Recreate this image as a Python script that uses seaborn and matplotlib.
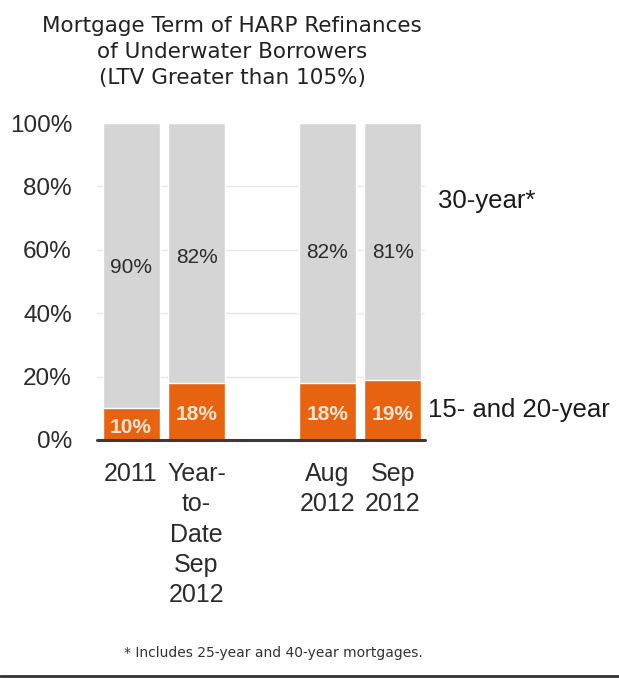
import matplotlib
matplotlib.use("Agg")
import matplotlib.pyplot as plt
import seaborn as sns
import pandas as pd
from matplotlib.lines import Line2D

categories = ["2011", "Year-\nto-\nDate\nSep\n2012", "Aug\n2012", "Sep\n2012"]
thirty_year = [90, 82, 82, 81]
fifteen_twenty = [10, 18, 18, 19]
label_heights = [54.5, 57.5, 59, 59]
order = [categories[0], categories[1], " ", categories[2], categories[3]]
yticks = [0, 20, 40, 60, 80, 100]

sns.set_theme(style="white")
plt.rcParams["font.family"] = ["Liberation Sans", "DejaVu Sans"]

df = pd.DataFrame({"cat": categories, "t30": thirty_year, "t15": fifteen_twenty})
df["total"] = df["t30"] + df["t15"]

fig = plt.figure(figsize=(6.19, 6.79), dpi=100)
ax = fig.add_axes([97 / 619, 1 - 440 / 679, 328 / 619, 317 / 679])

gray = "#D5D5D5"
orange = "#E8630F"
sns.barplot(data=df, x="cat", y="total", order=order, color=gray, width=0.87,
            saturation=1, ax=ax, zorder=2)
sns.barplot(data=df, x="cat", y="t15", order=order, color=orange, width=0.87,
            saturation=1, ax=ax, zorder=3)

ax.set_xlim(-0.52, 4.49)
ax.set_ylim(0, 100)
ax.set_yticks(yticks)
ax.set_yticklabels([f"{v}%" for v in yticks])
for v in yticks[1:-1]:
    ax.axhline(v, color="#E6E6E6", lw=1, zorder=1)
ax.axhline(0, color="#3a3a3a", lw=2.2, zorder=4, clip_on=False)

for s in ax.spines.values():
    s.set_visible(False)
ax.set_xlabel("")
ax.set_ylabel("")
ax.tick_params(axis="y", length=0, pad=18, labelsize=17.5, labelcolor="#2b2b2b")
ax.tick_params(axis="x", length=0, pad=16, labelsize=18, labelcolor="#2b2b2b")
for lab in ax.get_xticklabels():
    lab.set_linespacing(1.33)
    lab.set_verticalalignment("top")

pos = [order.index(c) for c in categories]
for p, t30, t15, h in zip(pos, thirty_year, fifteen_twenty, label_heights):
    ax.text(p, h, f"{t30}%", ha="center", va="center", fontsize=15, color="#2b2b2b", zorder=5)
    ax.text(p, 4 if t15 < 15 else 8, f"{t15}%", ha="center", va="center", fontsize=15,
            color="#FBE3D2", fontweight="bold", zorder=5)

ax.text(4.69, 75.5, "30-year*", ha="left", va="center", fontsize=18.5, color="#1a1a1a")
ax.text(4.54, 9.5, "15- and 20-year", ha="left", va="center", fontsize=18.5, color="#1a1a1a")

fig.text(232 / 619, 1 - 52 / 679,
         "Mortgage Term of HARP Refinances\nof Underwater Borrowers\n(LTV Greater than 105%)",
         ha="center", va="center", fontsize=15.5, color="#222222", linespacing=1.38,
         family=["DejaVu Sans"])
fig.text(273 / 619, 1 - 653 / 679, "* Includes 25-year and 40-year mortgages.",
         ha="center", va="center", fontsize=10, color="#333333", family=["DejaVu Sans"])
fig.add_artist(Line2D([0, 1], [1 - 676 / 679, 1 - 676 / 679], color="#333333", lw=2,
                      transform=fig.transFigure))

fig.savefig("out.png", dpi=100)
